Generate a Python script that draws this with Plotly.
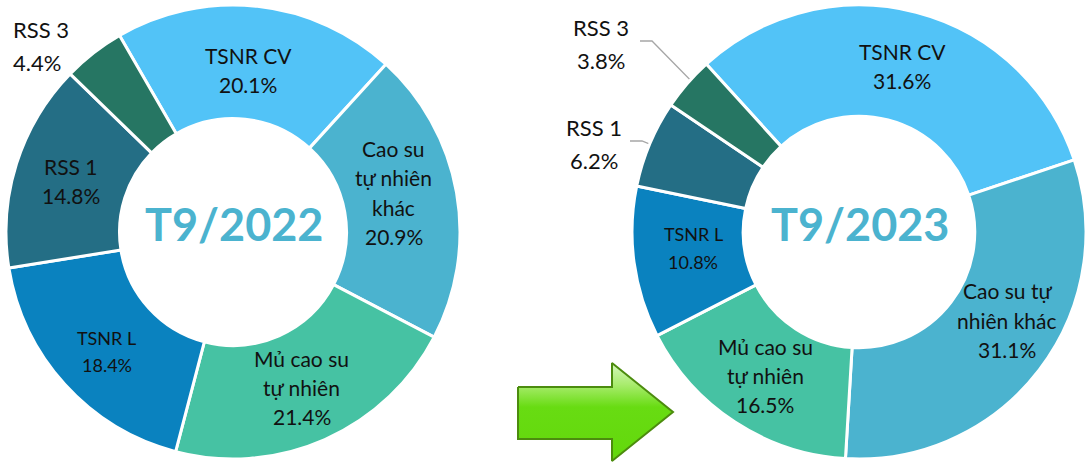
import math
import plotly.graph_objects as go

# Rubber product mix, share of volume (%)
categories = ["TSNR CV", "Cao su tự nhiên khác", "Mủ cao su tự nhiên",
              "TSNR L", "RSS 1", "RSS 3"]
share_2022 = [20.1, 20.9, 21.4, 18.4, 14.8, 4.4]
share_2023 = [31.6, 31.1, 16.5, 10.8, 6.2, 3.8]
period_labels = ["T9/2022", "T9/2023"]

colors = ["#52C3F7", "#4BB3CF", "#46C2A3", "#0A82BF", "#246E85", "#267663"]

W, H = 1086, 463
FONT = "Lato"
TEXT_COLOR = "#111111"
TITLE_COLOR = "#4BB3CF"

# line breaks used inside each ring
wrap_2022 = {
    "TSNR CV": ["TSNR CV"],
    "Cao su tự nhiên khác": ["Cao su", "tự nhiên", "khác"],
    "Mủ cao su tự nhiên": ["Mủ cao su", "tự nhiên"],
    "TSNR L": ["TSNR L"],
    "RSS 1": ["RSS 1"],
    "RSS 3": ["RSS 3"],
}
wrap_2023 = {
    "TSNR CV": ["TSNR CV"],
    "Cao su tự nhiên khác": ["Cao su tự", "nhiên khác"],
    "Mủ cao su tự nhiên": ["Mủ cao su", "tự nhiên"],
    "TSNR L": ["TSNR L"],
    "RSS 1": ["RSS 1"],
    "RSS 3": ["RSS 3"],
}

# ring geometry in pixels: x0, x1 of the domain, y0, y1 (from top), hole, start angle
rings = [
    dict(values=share_2022, title=period_labels[0], x0=6, x1=460, y0=5, y1=459,
         hole=0.50, rotation=-30, wrap=wrap_2022,
         nudge={"TSNR CV": (-3, 7), "Cao su tự nhiên khác": (-7, -10),
                "TSNR L": (0, 5)},
         small={"TSNR L"},
         outside={"RSS 3": dict(x=11, y=29, anchor="left")}),
    dict(values=share_2023, title=period_labels[1], x0=632, x1=1086, y0=5, y1=459,
         hole=0.51, rotation=-42.3, wrap=wrap_2023,
         nudge={"Cao su tự nhiên khác": (12, -16), "TSNR L": (4, -7)},
         small={"TSNR L"},
         outside={"RSS 3": dict(x=601, y=27, anchor="center", line_x=640),
                  "RSS 1": dict(x=594, y=127, anchor="center", line_x=630)}),
]

fig = go.Figure()
annotations = []

for ring in rings:
    cx = (ring["x0"] + ring["x1"]) / 2
    cy = (ring["y0"] + ring["y1"]) / 2
    r_out = min(ring["x1"] - ring["x0"], ring["y1"] - ring["y0"]) / 2
    r_in = r_out * ring["hole"]
    r_mid = (r_out + r_in) / 2

    fig.add_trace(go.Pie(
        labels=categories, values=ring["values"], sort=False,
        direction="clockwise", rotation=ring["rotation"], hole=ring["hole"],
        marker=dict(colors=colors, line=dict(color="white", width=3)),
        textinfo="none", hoverinfo="label+percent", showlegend=False,
        domain=dict(x=[ring["x0"] / W, min(ring["x1"] / W, 1)],
                    y=[1 - ring["y1"] / H, 1 - ring["y0"] / H]),
    ))

    annotations.append(dict(
        x=cx + 1, y=cy - 8, xref="x", yref="y", text=f"<b>{ring['title']}</b>",
        showarrow=False, font=dict(family=FONT, size=45, color=TITLE_COLOR),
        xanchor="center", yanchor="middle"))

    total = sum(ring["values"])
    angle = ring["rotation"]
    for name, val in zip(categories, ring["values"]):
        span = val / total * 360
        mid = math.radians(angle + span / 2)
        angle += span
        lines = ring["wrap"][name] + [f"{val:.1f}%"]

        if name in ring["outside"]:
            o = ring["outside"][name]
            step = 33
            for i, t in enumerate(lines):
                annotations.append(dict(
                    x=o["x"], y=o["y"] + i * step, xref="x", yref="y", text=t,
                    showarrow=False, xanchor=o["anchor"], yanchor="middle",
                    font=dict(family=FONT, size=22, color=TEXT_COLOR)))
            if "line_x" in o:
                ex = cx + r_mid * math.sin(mid)
                ey = cy - r_mid * math.cos(mid)
                ly = o["y"] + 14
                fig.add_trace(go.Scatter(
                    x=[o["line_x"], o["line_x"] + 12, ex], y=[ly, ly, ey],
                    mode="lines", line=dict(color="#A6A6A6", width=1.3),
                    hoverinfo="skip", showlegend=False))
            continue

        small = name in ring.get("small", set())
        size = 18 if small else 21
        step = 27.5 if small else 29.3
        dx, dy = ring["nudge"].get(name, (0, 0))
        px = cx + r_mid * math.sin(mid) + dx
        py = cy - r_mid * math.cos(mid) + dy
        top = py - step * (len(lines) - 1) / 2
        for i, t in enumerate(lines):
            annotations.append(dict(
                x=px, y=top + i * step, xref="x", yref="y", text=t,
                showarrow=False, xanchor="center", yanchor="middle",
                font=dict(family=FONT, size=size, color=TEXT_COLOR)))

# green arrow pointing from the 2022 ring to the 2023 ring
arrow_x = [518, 612, 612, 673, 612, 612, 518, 518]
arrow_y = [387, 387, 363, 412, 461, 439, 439, 387]
fig.add_trace(go.Scatter(
    x=arrow_x, y=arrow_y, mode="lines", fill="toself",
    fillgradient=dict(type="vertical", start=363, stop=461,
                      colorscale=[[0, "#D6F7BE"], [0.22, "#A9EC6E"],
                                  [0.45, "#68DC12"], [1, "#63D80C"]]),
    line=dict(color="#4C8C0E", width=2), hoverinfo="skip", showlegend=False))

fig.update_layout(
    width=W, height=H, margin=dict(l=0, r=0, t=0, b=0),
    paper_bgcolor="white", plot_bgcolor="rgba(0,0,0,0)",
    xaxis=dict(range=[0, W], visible=False, fixedrange=True, domain=[0, 1]),
    yaxis=dict(range=[H, 0], visible=False, fixedrange=True, domain=[0, 1]),
    annotations=annotations,
    font=dict(family=FONT),
)

fig.write_html("out.html")
